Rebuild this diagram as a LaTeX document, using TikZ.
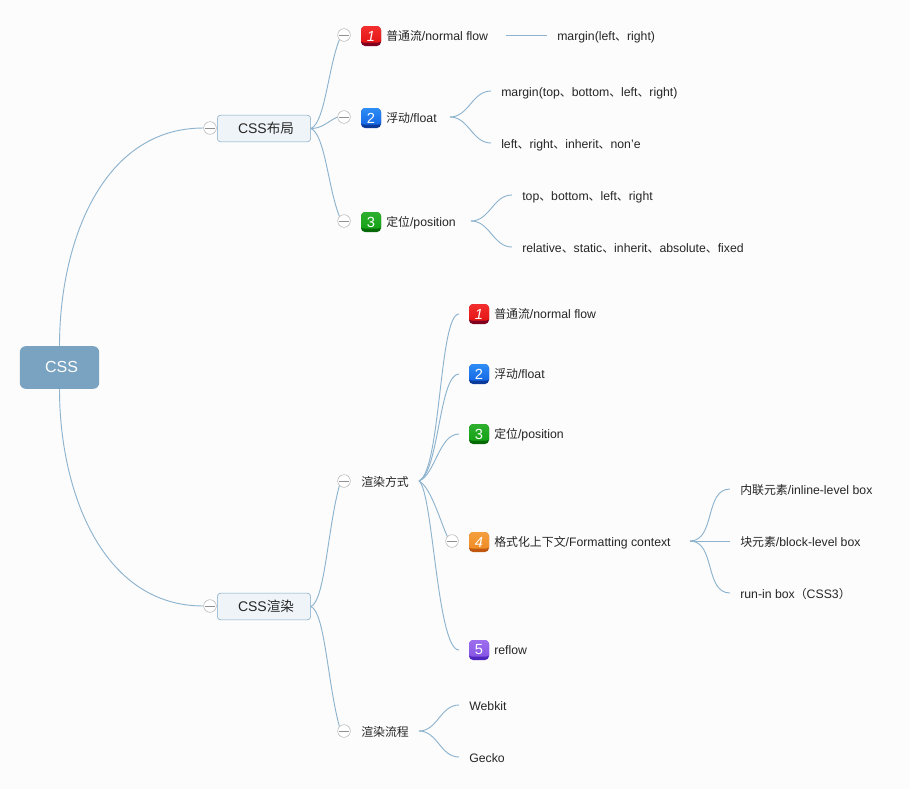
\documentclass[tikz,border=0pt]{standalone}
\usepackage{fontspec}
\setmainfont{Liberation Sans}
\newfontfamily\cjk[Scale=0.97]{Noto Sans CJK SC}
\usepackage{xcolor}
\usetikzlibrary{arrows.meta,shapes,positioning}
\definecolor{pagebg}{HTML}{FCFCFC}
\definecolor{linecol}{HTML}{8DB3CE}
\definecolor{rootcol}{HTML}{7AA3C2}
\definecolor{boxfill}{HTML}{EFF4F8}
\definecolor{boxline}{HTML}{7DA7C4}
\definecolor{togcol}{HTML}{B4B4B4}
\definecolor{redtop}{HTML}{F53030}
\definecolor{redmid}{HTML}{E01010}
\definecolor{redlow}{HTML}{800020}
\definecolor{bluetop}{HTML}{3090F8}
\definecolor{bluemid}{HTML}{1060E0}
\definecolor{bluelow}{HTML}{0A3A9A}
\definecolor{greentop}{HTML}{30B030}
\definecolor{greenmid}{HTML}{10A010}
\definecolor{greenlow}{HTML}{066A06}
\definecolor{orangetop}{HTML}{F5A040}
\definecolor{orangemid}{HTML}{EE8820}
\definecolor{orangelow}{HTML}{C05810}
\definecolor{purpletop}{HTML}{A070F0}
\definecolor{purplemid}{HTML}{8050E0}
\definecolor{purplelow}{HTML}{5028C0}
\tikzset{
rootnode/.style={shape=rectangle,rounded corners=4.5pt,fill=rootcol,text=white,minimum width=59.5pt,minimum height=32pt,inner sep=0pt,font=\fontsize{12}{14}\selectfont},
boxnode/.style={shape=rectangle,rounded corners=2.5pt,draw=boxline,fill=boxfill,text=black!85,minimum width=70pt,minimum height=20pt,inner sep=0pt,font=\fontsize{10.5}{12}\selectfont},
leaf/.style={anchor=west,inner ysep=0pt,inner xsep=7.5pt,text height=10pt,text depth=2pt,text=black!85,font=\fontsize{9.2}{11}\selectfont},
toggle/.style={shape=circle,draw=togcol,fill=white,minimum size=9.5pt,inner sep=0pt,path picture={\draw[togcol!80!black]([xshift=-3.6pt]path picture bounding box.center)--([xshift=3.6pt]path picture bounding box.center);}},
badge/.style={shape=rectangle,rounded corners=3pt,minimum size=15pt,inner sep=0pt,outer xsep=7.5pt,fill=#1low,text=white,font=\fontsize{11}{12}\selectfont,path picture={\shade[top color=#1top,bottom color=#1mid,rounded corners=3pt]([xshift=-1pt,yshift=1pt]path picture bounding box.north west) rectangle ([xshift=1pt,yshift=2.6pt]path picture bounding box.south east);}},
branch/.style={draw=linecol,line width=0.7pt}
}
\newcommand{\cn}[1]{{\cjk #1}}
\begin{document}
\begin{tikzpicture}[x=0.75pt,y=-0.75pt]
\useasboundingbox (0,0) rectangle (910,789);
\fill[pagebg](0,0) rectangle (910,789);
% main nodes
\node[rootnode](css) at (59.5,367.5){\hspace*{3pt}\raisebox{1pt}{CSS}};
\node[boxnode](layout) at (264,128.5){\hspace*{3pt}CSS\cn{布局}};
\node[boxnode](render) at (264,606.5){\hspace*{3pt}CSS\cn{渲染}};
\node[toggle](tlayout) at (210,128){};
\node[toggle](trender) at (210,606){};
% layout branch
\node[toggle](tnormal) at (344,35){};
\node[toggle](tfloat) at (344,117){};
\node[toggle](tpos) at (344,221){};
\node[badge=red](bnormal) at (371,36){\itshape 1};
\node[badge=blue](bfloat) at (371,118){2};
\node[badge=green](bpos) at (371,222){3};
\node[leaf](lnormal) at (376,35){\cn{普通流}/normal flow};
\node[leaf](lfloat) at (376,117){\cn{浮动}/float};
\node[leaf](lpos) at (376,221){\cn{定位}/position};
\coordinate (fnormal) at (506,35);
\coordinate (ffloat) at (450,117);
\coordinate (fpos) at (471,221);
\node[leaf](margin) at (547,35){margin(left\cn{、}right)};
\node[leaf](margin2) at (491,91){margin(top\cn{、}bottom\cn{、}left\cn{、}right)};
\node[leaf](lrval) at (491,143){left\cn{、}right\cn{、}inherit\cn{、}non'e};
\node[leaf](tbval) at (512,195){top\cn{、}bottom\cn{、}left\cn{、}right};
\node[leaf](posval) at (512,247){relative\cn{、}static\cn{、}inherit\cn{、}absolute\cn{、}fixed};
% render branch
\node[toggle](tway) at (344,481){};
\node[toggle](tflow) at (344,731){};
\node[leaf](way) at (351,481){\cn{渲染方式}};
\node[leaf](flow) at (351,731){\cn{渲染流程}};
\coordinate (fway) at (419,481);
\coordinate (fflow) at (419,731);
\node[badge=red](b1) at (479,314){\itshape 1};
\node[badge=blue](b2) at (479,374){2};
\node[badge=green](b3) at (479,434){3};
\node[badge=orange](b4) at (479,542){\itshape 4};
\node[badge=purple](b5) at (479,650){5};
\node[toggle](tctx) at (452,541){};
\node[leaf](l1) at (484,313){\cn{普通流}/normal flow};
\node[leaf](l2) at (484,373){\cn{浮动}/float};
\node[leaf](l3) at (484,433){\cn{定位}/position};
\node[leaf](l4) at (484,541){\cn{格式化上下文}/Formatting context};
\node[leaf](l5) at (484,649){reflow};
\coordinate (fctx) at (690,541);
\node[leaf](inl) at (730,489){\cn{内联元素}/inline-level box};
\node[leaf](blk) at (730,541){\cn{块元素}/block-level box};
\node[leaf](runin) at (730,593){run-in box\cn{（}CSS3\cn{）}};
\node[leaf](webkit) at (459,705){Webkit};
\node[leaf](gecko) at (459,757){Gecko};
% connectors
\draw[branch](css.north) to[out=90,in=180] (tlayout.west);
\draw[branch](css.south) to[out=-90,in=180] (trender.west);
\draw[branch](layout.east) .. controls +(14,-6) and +(-11.5,30) .. (tnormal.south west);
\draw[branch](layout.east) to[out=0,in=205] (tfloat.west);
\draw[branch](layout.east) .. controls +(14,6) and +(-11.5,-30) .. (tpos.north west);
\draw[branch](render.east) .. controls +(14,-6) and +(-12,45) .. (tway.south west);
\draw[branch](render.east) .. controls +(14,6) and +(-12,-45) .. (tflow.north west);
\draw[branch](fnormal)--(margin.west);
\draw[branch](ffloat) to[out=0,in=180] (margin2.west);
\draw[branch](ffloat) to[out=0,in=180] (lrval.west);
\draw[branch](fpos) to[out=0,in=180] (tbval.west);
\draw[branch](fpos) to[out=0,in=180] (posval.west);
\draw[branch](fway) .. controls +(22,-10) and +(-20,0) .. (b1.west);
\draw[branch](fway) .. controls +(20,-8) and +(-20,0) .. (b2.west);
\draw[branch](fway) .. controls +(16,-6) and +(-20,0) .. (b3.west);
\draw[branch](fway) .. controls +(12,6) and +(-6,-12) .. (tctx.north west);
\draw[branch](fway) .. controls +(14,10) and +(-22,0) .. (b5.west);
\draw[branch](fctx) to[out=0,in=180] (inl.west);
\draw[branch](fctx)--(blk.west);
\draw[branch](fctx) to[out=0,in=180] (runin.west);
\draw[branch](fflow) to[out=0,in=180] (webkit.west);
\draw[branch](fflow) to[out=0,in=180] (gecko.west);
\end{tikzpicture}
\end{document}
